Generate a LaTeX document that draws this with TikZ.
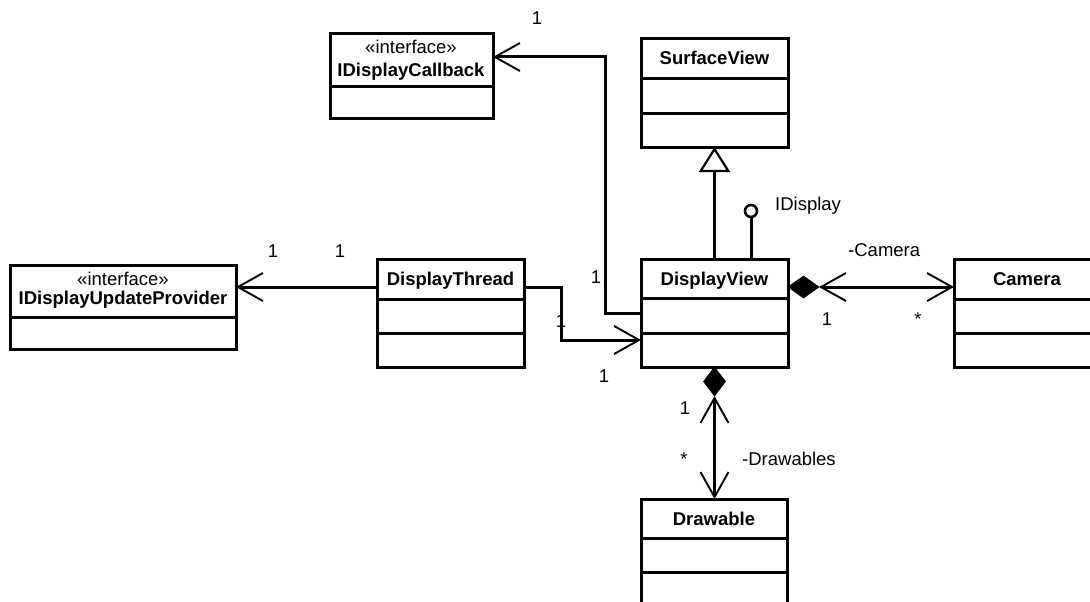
\documentclass[tikz,border=0pt]{standalone}
\usepackage{fontspec}
\setmainfont{Liberation Sans}
\usetikzlibrary{arrows.meta,shapes.geometric,calc}

\tikzset{
  txt/.style={font=\fontsize{18.5}{22}\selectfont},
  cls/.style={draw, line width=3pt, inner sep=0pt, outer sep=0pt, anchor=north west, fill=white},
  divline/.style={line width=3pt},
  assoc/.style={line width=3pt},
  cname/.style={font=\fontsize{18.5}{22}\selectfont\bfseries, anchor=base, inner sep=0pt},
  stereo/.style={txt, anchor=base, inner sep=0pt},
  lbl/.style={txt, anchor=base, inner sep=0pt},
  lblw/.style={txt, anchor=base west, inner sep=0pt},
  comp/.style={diamond, fill=black, draw=black, line width=0.6pt, inner sep=0pt, outer sep=0pt},
  lolly/.style={circle, draw, line width=2.6pt, fill=white, minimum size=12pt, inner sep=0pt, outer sep=0pt},
}
\newcommand\compline[2]{\draw[divline] ([yshift=-#2]#1.north west) -- ([yshift=-#2]#1.north east);}

\begin{document}
\begin{tikzpicture}[x=1pt, y=-1pt,
  >={Straight Barb[length=25pt,width=28pt,line width=1.9pt]}]
  \useasboundingbox (0,0) rectangle (1090,602);
  \fill[white] (0,0) rectangle (1090,602);
  \clip (0,0) rectangle (1090,602);

  % class boxes
  \node[cls, minimum width=163pt, minimum height=84pt]  (cb)  at (330,34)  {};
  \node[cls, minimum width=147pt, minimum height=108pt] (sv)  at (641,39)  {};
  \node[cls, minimum width=226pt, minimum height=84pt]  (up)  at (10,265)  {};
  \node[cls, minimum width=147pt, minimum height=108pt] (dt)  at (377,259) {};
  \node[cls, minimum width=147pt, minimum height=108pt] (dv)  at (641,259) {};
  \node[cls, minimum width=147pt, minimum height=108pt] (cam) at (954,259) {};
  \node[cls, minimum width=146pt, minimum height=120pt] (dr)  at (641,499) {};

  % compartments
  \compline{cb}{53pt}
  \compline{sv}{40pt}  \compline{sv}{74pt}
  \compline{up}{52pt}
  \compline{dt}{40pt}  \compline{dt}{74pt}
  \compline{dv}{39pt}  \compline{dv}{74pt}
  \compline{cam}{40pt} \compline{cam}{74pt}
  \compline{dr}{39pt}  \compline{dr}{73pt}

  % class names
  \node[stereo] (cbst) at (411,54) {«interface»};
  \node[cname]  (cbn)  at (411,77) {IDisplayCallback};
  \node[stereo] (upst) at (123,285) {«interface»};
  \node[cname]  (upn)  at (123,304) {IDisplayUpdateProvider};
  \node[cname]  (svn)  at (714.5,65) {SurfaceView};
  \node[cname]  (dtn)  at (450.5,285) {DisplayThread};
  \node[cname]  (dvn)  at (714.5,285) {DisplayView};
  \node[cname]  (camn) at (1027,285) {Camera};
  \node[cname]  (drn)  at (714,525) {Drawable};

  % DisplayView -> IDisplayCallback
  \draw[assoc, ->] ([yshift=-54pt]dv.north west) -- ++(-36,0) |- ([yshift=19pt]cb.east);
  % DisplayThread -> IDisplayUpdateProvider
  \draw[assoc, ->] ([yshift=26pt]dt.west) -- ([yshift=26pt]dt.west -| up.east);
  % DisplayThread -> DisplayView
  \draw[assoc, ->] ([yshift=26pt]dt.east) -- ++(37,0) |- ([yshift=-27pt]dv.west);

  % generalization DisplayView -> SurfaceView
  \draw[assoc, -{Triangle[open,length=25pt,width=31pt,line width=2.2pt,fill=white]}] (dv.north) -- (sv.south);

  % provided interface
  \node[lolly] (ld) at ([xshift=36.5pt,yshift=48pt]dv.north) {};
  \draw[assoc] (ld.south) -- (ld.south |- dv.north);
  \node[lblw] (ldl) at (775,210) {IDisplay};

  % composition DisplayView - Camera
  \node[comp, minimum width=31pt, minimum height=22pt, anchor=west] (d1) at ([yshift=26pt]dv.east) {};
  \draw[assoc, <->] (d1.east) -- ([yshift=26pt]cam.west);
  \node[lblw] (camrole) at (848,256) {-Camera};
  \node[lbl] (cm1) at (827,325) {1};
  \node[lbl] (cm2) at (918,325) {*};

  % composition DisplayView - Drawable
  \node[comp, minimum width=22pt, minimum height=29pt, anchor=north] (d2) at (dv.south) {};
  \draw[assoc, <->] (d2.south) -- (d2.south |- dr.north);
  \node[lbl]  (dm1) at (685,414) {1};
  \node[lbl]  (dm2) at (684,465) {*};
  \node[lblw] (drrole) at (742,465) {-Drawables};

  % multiplicities
  \node[lbl] (m1) at (537,25) {1};
  \node[lbl] (m2) at (273,257) {1};
  \node[lbl] (m3) at (340,257) {1};
  \node[lbl] (m4) at (596,283) {1};
  \node[lbl] (m5) at (561,327) {1};
  \node[lbl] (m6) at (604,382) {1};
\end{tikzpicture}
\end{document}
